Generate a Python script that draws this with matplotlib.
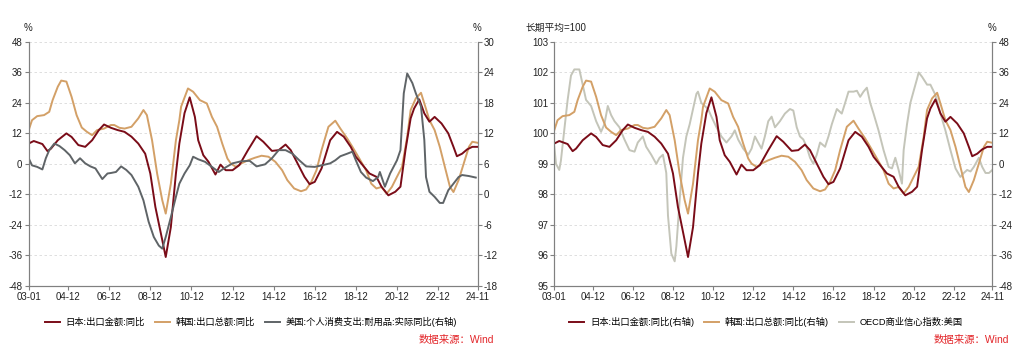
import matplotlib
matplotlib.use("Agg")
import matplotlib.pyplot as plt
import pandas as pd

plt.rcParams['font.family'] = ['Liberation Sans', 'Noto Sans CJK SC']
plt.rcParams['axes.unicode_minus'] = False

# ---------------- data ----------------
jp_dates = ["03-01","03-04","03-09","03-12","04-02","04-06","04-11","05-02","05-06","05-10",
            "06-02","06-06","06-09","07-01","07-05","07-09","08-01","08-05","08-09","08-12",
            "09-03","09-07","09-09","09-12","10-03","10-05","10-08","10-11","11-02","11-04",
            "11-07","11-10","12-02","12-05","12-08","12-12","13-04","13-09","14-02","14-06",
            "14-11","15-03","15-07","15-10","16-02","16-06","16-09","16-12","17-04","17-09",
            "18-01","18-05","18-09","18-12","19-04","19-08","19-12","20-03","20-07","20-11",
            "21-02","21-05","21-08","21-10","22-01","22-04","22-07","22-10","23-02","23-06",
            "23-09","23-11","24-02","24-05","24-08","24-11"]
jp_vals = [8.0,9.0,7.8,5.0,6.0,9.3,12.0,10.6,7.4,6.7,
           9.3,13.3,15.5,14.2,13.3,12.6,10.7,8.0,4.0,-3.8,
           -17.0,-30.0,-36.7,-24.9,-3.8,8.0,20.0,26.2,18.5,9.3,
           3.4,0.8,-4.2,-0.3,-2.5,-2.5,-0.5,5.4,10.9,8.7,
           5.1,5.4,7.6,5.4,0.1,-5.1,-8.0,-7.1,-1.8,9.3,
           12.6,10.7,6.7,2.8,-0.5,-3.8,-5.1,-9.0,-12.4,-11.0,
           -9.0,5.4,17.9,21.8,25.4,19.9,16.6,18.5,15.9,12.0,
           6.7,3.0,4.0,5.7,6.7,6.7]

kr_dates = ["03-01","03-03","03-06","03-10","04-01","04-03","04-06","04-08","04-11","05-02",
            "05-05","05-08","05-11","06-02","06-05","06-09","07-01","07-03","07-06","07-09",
            "08-01","08-05","08-08","08-10","09-01","09-04","09-07","09-09","09-12","10-03",
            "10-05","10-06","10-10","11-01","11-05","11-09","11-12","12-03","12-06","12-09",
            "12-11","13-02","13-05","13-09","14-01","14-05","14-09","15-01","15-05","15-08",
            "15-12","16-04","16-07","16-10","17-01","17-04","17-08","17-12","18-03","18-07",
            "18-10","19-02","19-06","19-09","19-12","20-03","20-06","20-09","20-12","21-03",
            "21-06","21-08","21-11","22-02","22-04","22-07","22-10","23-01","23-04","23-07",
            "23-09","23-12","24-03","24-06","24-08","24-11"]
kr_vals = [13.3,17.2,18.8,19.2,20.5,25.1,30.4,32.8,32.4,26.4,
           19.2,14.3,12.6,11.3,13.3,13.9,15.3,15.3,14.2,13.9,
           14.6,17.9,21.2,19.2,9.3,-3.8,-14.3,-19.6,-7.8,9.3,
           17.2,22.5,29.7,28.4,25.1,23.8,18.5,14.6,8.0,2.1,
           0.1,-1.2,0.1,1.4,2.4,3.2,2.8,0.8,-2.5,-6.4,
           -9.7,-10.8,-10.1,-7.1,-2.5,5.4,14.6,17.0,13.9,10.0,
           6.7,2.1,-2.5,-7.8,-9.7,-9.1,-11.7,-9.1,-5.1,-1.2,
           10.7,21.2,25.8,28.0,23.8,17.2,13.3,6.7,-1.2,-9.1,
           -11.1,-6.4,0.1,6.7,8.7,8.3]

us_dates = ["03-01","03-03","03-06","03-09","03-11","04-01","04-04","04-07","04-10","05-01",
            "05-04","05-07","05-10","06-01","06-04","06-08","06-11","07-01","07-04","07-07",
            "07-10","08-01","08-05","08-08","08-11","09-02","09-05","09-07","09-09","09-12",
            "10-03","10-05","10-08","10-11","11-01","11-04","11-08","11-12","12-04","12-07",
            "12-12","13-05","13-10","14-02","14-07","14-11","15-03","15-07","15-11","16-03",
            "16-07","16-12","17-04","17-09","17-12","18-03","18-07","18-10","18-12","19-03",
            "19-06","19-10","20-01","20-02","20-05","20-08","20-12","21-02","21-04","21-06",
            "21-09","21-11","22-02","22-04","22-05","22-07","22-10","23-01","23-03","23-06",
            "23-09","23-12","24-02","24-06","24-10"]
us_vals = [7.1,5.7,5.4,4.9,7.1,8.7,10.0,9.5,8.7,7.7,
           6.1,7.1,6.1,5.5,5.1,3.0,4.1,4.2,4.4,5.5,
           4.8,3.8,1.5,-1.2,-5.4,-8.4,-10.1,-10.7,-8.4,-4.5,
           -0.5,2.1,4.1,5.7,7.4,6.9,6.4,5.4,4.4,5.1,
           6.1,6.5,6.6,5.5,5.9,7.1,8.7,8.7,8.0,6.7,
           5.5,5.4,5.7,6.1,6.7,7.5,8.0,8.4,6.7,4.4,
           3.3,2.6,3.4,4.4,1.5,4.1,6.7,8.7,19.9,23.8,
           21.9,19.9,17.3,10.7,3.4,0.5,-0.5,-1.7,-1.7,0.8,
           2.1,3.4,3.8,3.6,3.3]

oecd_dates = ["03-01","03-02","03-04","03-05","03-07","03-09","03-11","04-01","04-04","04-06",
              "04-08","04-11","05-02","05-05","05-07","05-09","05-11","06-01","06-04","06-07",
              "06-10","07-01","07-03","07-06","07-08","07-11","08-02","08-04","08-06","08-08",
              "08-09","08-11","09-01","09-02","09-04","09-06","09-08","09-10","09-12","10-02",
              "10-03","10-05","10-07","10-09","10-11","11-02","11-05","11-08","11-11","12-01",
              "12-03","12-06","12-09","12-11","13-01","13-03","13-05","13-07","13-09","13-11",
              "14-01","14-04","14-07","14-10","14-12","15-02","15-04","15-06","15-08","15-10",
              "15-12","16-02","16-04","16-07","16-09","16-11","17-02","17-05","17-07","17-09",
              "17-12","18-02","18-04","18-06","18-08","18-10","18-12","19-03","19-06","19-09",
              "19-11","20-01","20-03","20-05","20-06","20-08","20-10","20-12","21-02","21-03",
              "21-05","21-08","21-10","22-01","22-04","22-07","22-10","23-01","23-04","23-06",
              "23-08","23-10","23-12","24-03","24-05","24-07","24-09","24-11"]
oecd_vals = [99.56,99.0,98.8,99.1,100.1,101.1,101.9,102.1,102.1,101.6,
             101.1,100.9,100.4,100.05,100.3,100.9,100.6,100.4,100.2,99.8,
             99.45,99.4,99.7,99.9,99.56,99.3,99.0,99.2,99.3,98.7,
             97.3,96.05,95.8,96.3,97.8,99.2,99.9,100.3,100.8,101.3,
             101.37,101.0,100.9,100.8,100.55,100.2,99.9,99.7,99.9,100.1,
             99.8,99.5,99.3,99.5,99.9,99.7,99.5,99.9,100.4,100.55,
             100.2,100.4,100.65,100.8,100.75,100.2,99.9,99.8,99.56,99.2,
             99.0,99.3,99.7,99.56,99.9,100.3,100.8,100.65,101.0,101.37,
             101.37,101.4,101.2,101.37,101.5,101.0,100.65,100.1,99.45,98.9,
             98.85,99.2,98.8,98.35,99.45,100.3,101.0,101.4,101.8,102.0,
             101.86,101.6,101.6,101.26,100.65,100.1,99.45,98.85,98.57,98.7,
             98.8,98.75,98.9,99.2,98.9,98.7,98.7,98.8]

tick_dates = ["03-01","04-12","06-12","08-12","10-12","12-12","14-12","16-12",
              "18-12","20-12","22-12","24-11"]

names_left = ["日本:出口金额:同比", "韩国:出口总额:同比", "美国:个人消费支出:耐用品:实际同比(右轴)"]
names_right = ["日本:出口金额:同比(右轴)", "韩国:出口总额:同比(右轴)", "OECD商业信心指数:美国"]

# ---------------- styling ----------------
C_JP = "#7a0c18"
C_KR = "#d3a067"
C_US = "#5f6467"
C_OECD = "#c4c5b9"
SPINE = "#808080"
LW = 1.4


def dt(lst):
    return pd.to_datetime(["20" + s for s in lst], format="%Y-%m")


def style(ax):
    ax.spines['top'].set_visible(False)
    for s in ['left', 'right', 'bottom']:
        ax.spines[s].set_color(SPINE)
        ax.spines[s].set_linewidth(0.8)
    ax.tick_params(axis='both', labelsize=7, color=SPINE, length=3, width=0.8,
                   labelcolor='#222222', pad=1.5)


xt = dt(tick_dates)
xmin, xmax = xt[0], xt[-1]

fig = plt.figure(figsize=(10.24, 3.6), dpi=100)
ax1 = fig.add_axes([28.7 / 1024, 1 - 285.7 / 360, 448.8 / 1024, 243.7 / 360])
ax2 = fig.add_axes([554.3 / 1024, 1 - 285.7 / 360, 438.0 / 1024, 243.7 / 360])

# ----- left chart -----
l1, = ax1.plot(dt(jp_dates), jp_vals, color=C_JP, lw=LW, zorder=3)
l2, = ax1.plot(dt(kr_dates), kr_vals, color=C_KR, lw=LW, zorder=2)
ax1.set_ylim(-48, 48)
ax1.set_yticks(range(-48, 49, 12))
ax1.set_xlim(xmin, xmax)
ax1.set_xticks(xt)
ax1.set_xticklabels(tick_dates)
ax1.yaxis.grid(True, ls=(0, (3, 3)), color='#d9d9d9', lw=0.6)
ax1.set_axisbelow(True)
style(ax1)
ax1t = ax1.twinx()
l3, = ax1t.plot(dt(us_dates), us_vals, color=C_US, lw=LW)
ax1t.set_ylim(-18, 30)
ax1t.set_yticks(range(-18, 31, 6))
ax1t.set_xlim(xmin, xmax)
style(ax1t)

# ----- right chart -----
r3, = ax2.plot(dt(oecd_dates), oecd_vals, color=C_OECD, lw=LW)
ax2.set_ylim(95, 103)
ax2.set_yticks(range(95, 104, 1))
ax2.set_xlim(xmin, xmax)
ax2.set_xticks(xt)
ax2.set_xticklabels(tick_dates)
ax2.yaxis.grid(True, ls=(0, (3, 3)), color='#d9d9d9', lw=0.6)
ax2.set_axisbelow(True)
style(ax2)
ax2t = ax2.twinx()
r2, = ax2t.plot(dt(kr_dates), kr_vals, color=C_KR, lw=LW)
r1, = ax2t.plot(dt(jp_dates), jp_vals, color=C_JP, lw=LW)
ax2t.set_ylim(-48, 48)
ax2t.set_yticks(range(-48, 49, 12))
ax2t.set_xlim(xmin, xmax)
style(ax2t)

# ----- unit labels -----
fs_unit = 7
fig.text(28 / 1024, 1 - 28 / 360, "%", ha='center', va='center', fontsize=fs_unit, color='#222222')
fig.text(477 / 1024, 1 - 28 / 360, "%", ha='center', va='center', fontsize=fs_unit, color='#222222')
fig.text(525 / 1024, 1 - 28 / 360, "长期平均=100", ha='left', va='center', fontsize=fs_unit, color='#222222')
fig.text(992 / 1024, 1 - 28 / 360, "%", ha='center', va='center', fontsize=fs_unit, color='#222222')

# ----- legends -----
leg_kw = dict(loc='center', ncol=3, frameon=False, fontsize=6.7, handlelength=1.6,
              handletextpad=0.6, columnspacing=1.1, borderaxespad=0, borderpad=0)
fig.legend([l1, l2, l3], names_left, bbox_to_anchor=(251 / 1024, 1 - 322 / 360), **leg_kw)
fig.legend([r1, r2, r3], names_right, bbox_to_anchor=(766 / 1024, 1 - 322 / 360), **leg_kw)

# ----- source -----
fig.text(494 / 1024, 1 - 340 / 360, "数据来源：Wind", ha='right', va='center',
         fontsize=7.5, color='#e3262a')
fig.text(1009 / 1024, 1 - 340 / 360, "数据来源：Wind", ha='right', va='center',
         fontsize=7.5, color='#e3262a')

fig.savefig("out.png", dpi=100, facecolor='white')
